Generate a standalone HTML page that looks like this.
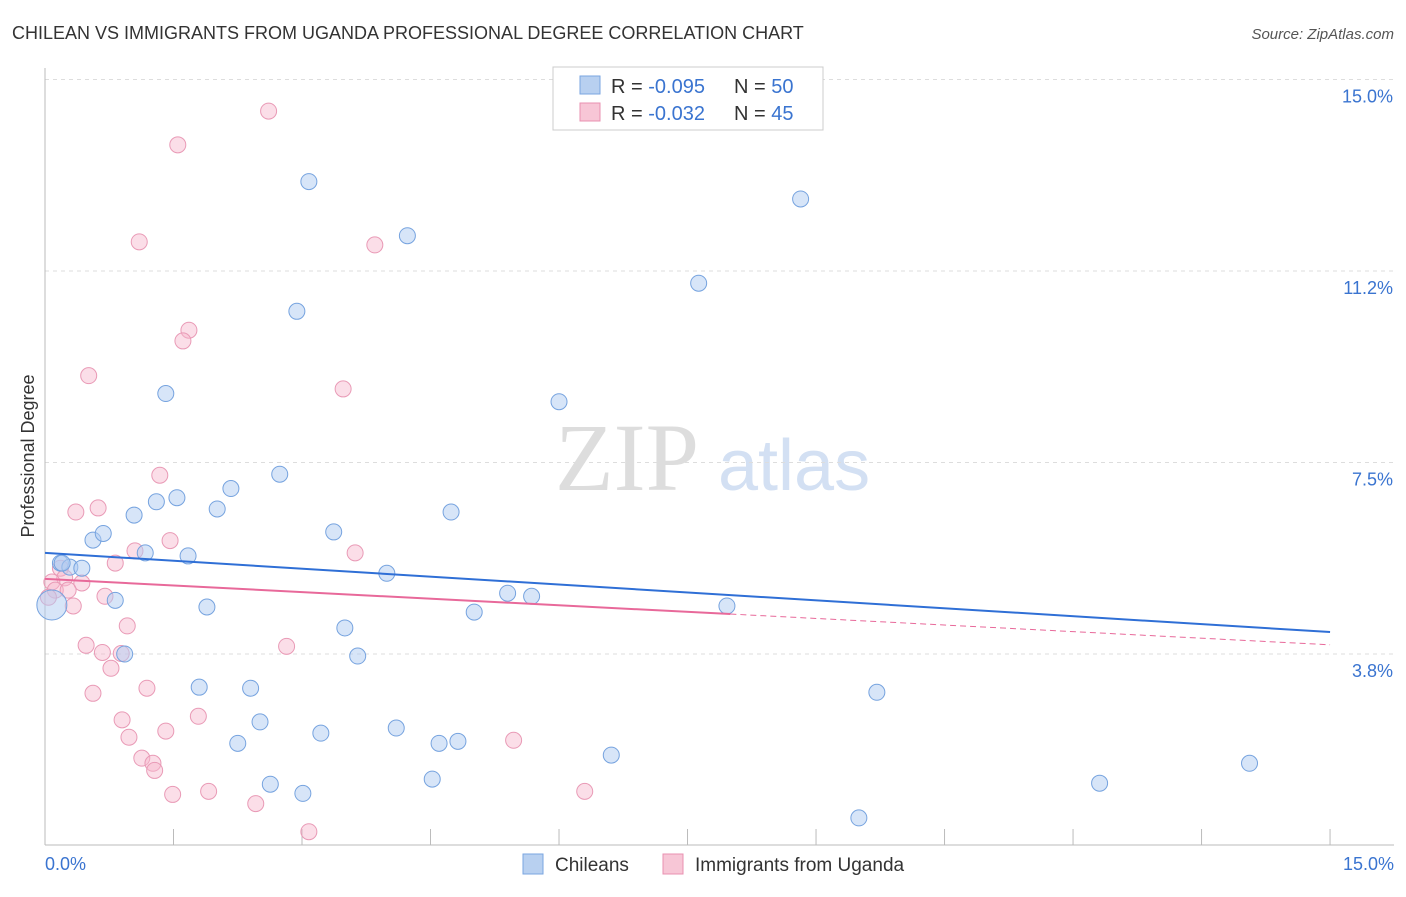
<!DOCTYPE html>
<html><head><meta charset="utf-8"><style>
body{margin:0;background:#fff;font-family:"Liberation Sans",sans-serif;}
</style></head><body>
<svg width="1406" height="892" xmlns="http://www.w3.org/2000/svg" id="chart">
<text x="12" y="39" font-size="18" fill="#333">CHILEAN VS IMMIGRANTS FROM UGANDA PROFESSIONAL DEGREE CORRELATION CHART</text>
<text x="1394" y="39" font-size="15" fill="#555" font-style="italic" text-anchor="end">Source: ZipAtlas.com</text>
<text x="555" y="490" font-size="96" fill="#ddd" font-family="Liberation Serif">ZIP</text>
<text x="718" y="490" font-size="72" fill="#d3e0f3">atlas</text>
<text x="34" y="456" font-size="18" fill="#333" transform="rotate(-90 34 456)" text-anchor="middle">Professional Degree</text>
<g id="grid"></g><g id="pts"></g><g id="trend"></g>
<g>
<rect x="553" y="67" width="270" height="63" fill="#fff" stroke="#ccc"/>
<rect x="580" y="76" width="20" height="18" fill="#b8d0f0" stroke="#7aa6e0"/>
<rect x="580" y="103" width="20" height="18" fill="#f7c6d6" stroke="#e890b0"/>
<text x="611" y="93" font-size="20" fill="#333">R = <tspan fill="#3a74d0">-0.095</tspan></text>
<text x="734" y="93" font-size="20" fill="#333">N = <tspan fill="#3a74d0">50</tspan></text>
<text x="611" y="120" font-size="20" fill="#333">R = <tspan fill="#3a74d0">-0.032</tspan></text>
<text x="734" y="120" font-size="20" fill="#333">N = <tspan fill="#3a74d0">45</tspan></text>
</g>
<g>
<rect x="523" y="854" width="20" height="20" fill="#b8d0f0" stroke="#7aa6e0"/>
<text x="555" y="871" font-size="19" fill="#333">Chileans</text>
<rect x="663" y="854" width="20" height="20" fill="#f7c6d6" stroke="#e890b0"/>
<text x="695" y="871" font-size="19" fill="#333">Immigrants from Uganda</text>
</g>
<text x="45" y="870" font-size="18" fill="#3a74d0">0.0%</text>
<text x="1394" y="870" font-size="18" fill="#3a74d0" text-anchor="end">15.0%</text>
</svg>
<script>
const yTicks=[3.75,7.5,11.25,15];
const yTickLabels=["3.8%","7.5%","11.2%","15.0%"];
const chileanX=[0.18,0.29,0.43,0.56,0.68,0.82,0.93,1.04,1.17,1.30,1.41,1.54,1.67,1.80,1.89,2.01,2.17,2.25,2.40,2.51,2.63,2.74,2.94,3.01,3.08,3.22,3.37,3.50,3.65,3.99,4.10,4.23,4.52,4.60,4.74,4.82,5.01,5.40,5.68,6.00,6.61,7.63,7.96,8.82,9.50,9.71,12.31,14.06,0.08,0.20];
const chileanY=[5.53,5.45,5.43,5.98,6.11,4.80,3.75,6.47,5.73,6.73,8.85,6.81,5.67,3.10,4.67,6.59,6.99,2.00,3.08,2.42,1.20,7.27,10.46,1.02,13.00,2.20,6.14,4.26,3.71,5.33,2.30,11.94,1.30,2.00,6.53,2.04,4.57,4.94,4.88,8.69,1.77,11.01,4.69,12.66,0.54,3.00,1.22,1.61,4.71,5.53];
const ugandaX=[2.61,1.55,1.10,3.85,1.68,1.61,0.51,3.48,1.34,0.62,0.36,1.46,1.05,3.62,0.82,0.18,0.23,0.43,0.08,0.12,0.33,0.70,0.96,0.48,0.67,0.89,2.82,0.77,1.19,0.56,1.79,0.90,1.41,0.98,1.13,1.26,1.28,5.47,1.49,1.91,2.46,6.30,3.08,0.04,0.27];
const ugandaY=[14.38,13.72,11.82,11.76,10.09,9.88,9.20,8.94,7.25,6.61,6.53,5.97,5.77,5.73,5.53,5.43,5.24,5.14,5.16,5.00,4.69,4.88,4.30,3.92,3.78,3.76,3.90,3.47,3.08,2.98,2.53,2.46,2.24,2.12,1.71,1.61,1.47,2.06,1.00,1.06,0.82,1.06,0.27,4.86,5.00];
</script>
<script>
const NS="http://www.w3.org/2000/svg";
const X=v=>45+v*85.67, Y=v=>845.5-v*51.07;
function mk(t,a,p){const e=document.createElementNS(NS,t);for(const k in a)e.setAttribute(k,a[k]);p.appendChild(e);return e;}
const g=document.getElementById('grid');
yTicks.forEach((t,i)=>{
 const l=mk('line',{x1:45,x2:1394,y1:Y(t),y2:Y(t),stroke:'#ddd','stroke-dasharray':'4,4'},g);
 
 
 const tx=mk('text',{x:1393,y:Y(t)+23,'font-size':18,fill:'#3a74d0','text-anchor':'end'},g);
 tx.textContent=yTickLabels[i];
 
 
});
const ax=mk('line',{x1:45,x2:45,y1:68,y2:845,stroke:'#bbb'},g);


const bx=mk('line',{x1:45,x2:1394,y1:845,y2:845,stroke:'#bbb'},g);


for(let i=0;i<=10;i++){const t=mk('line',{x1:X(i*1.5),x2:X(i*1.5),y1:829,y2:845,stroke:'#bbb'},g);
 
 }
const p=document.getElementById('pts');
ugandaX.forEach((x,i)=>{const c=mk('circle',{cx:X(x),cy:Y(ugandaY[i]),r:8,fill:'rgba(247,182,204,0.45)',stroke:'#e99ab6','stroke-width':1},p);
 
 });
chileanX.forEach((x,i)=>{const c=mk('circle',{cx:X(x),cy:Y(chileanY[i]),r:i==48?15:8,fill:'rgba(176,204,242,0.5)',stroke:'#76a3df','stroke-width':1},p);
 
 });
const tr=document.getElementById('trend');
const b=mk('line',{x1:X(0),y1:Y(5.73),x2:X(15),y2:Y(4.18),stroke:'#2f6fd6','stroke-width':2},tr);


const pk=mk('line',{x1:X(0),y1:Y(5.22),x2:X(8),y2:Y(5.22-8*(5.22-3.93)/15),stroke:'#e8699a','stroke-width':2},tr);


const pd=mk('line',{x1:X(8),y1:Y(5.22-8*(5.22-3.93)/15),x2:X(15),y2:Y(3.93),stroke:'#e8699a','stroke-width':1,'stroke-dasharray':'6,4'},tr);


</script>
</body></html>
